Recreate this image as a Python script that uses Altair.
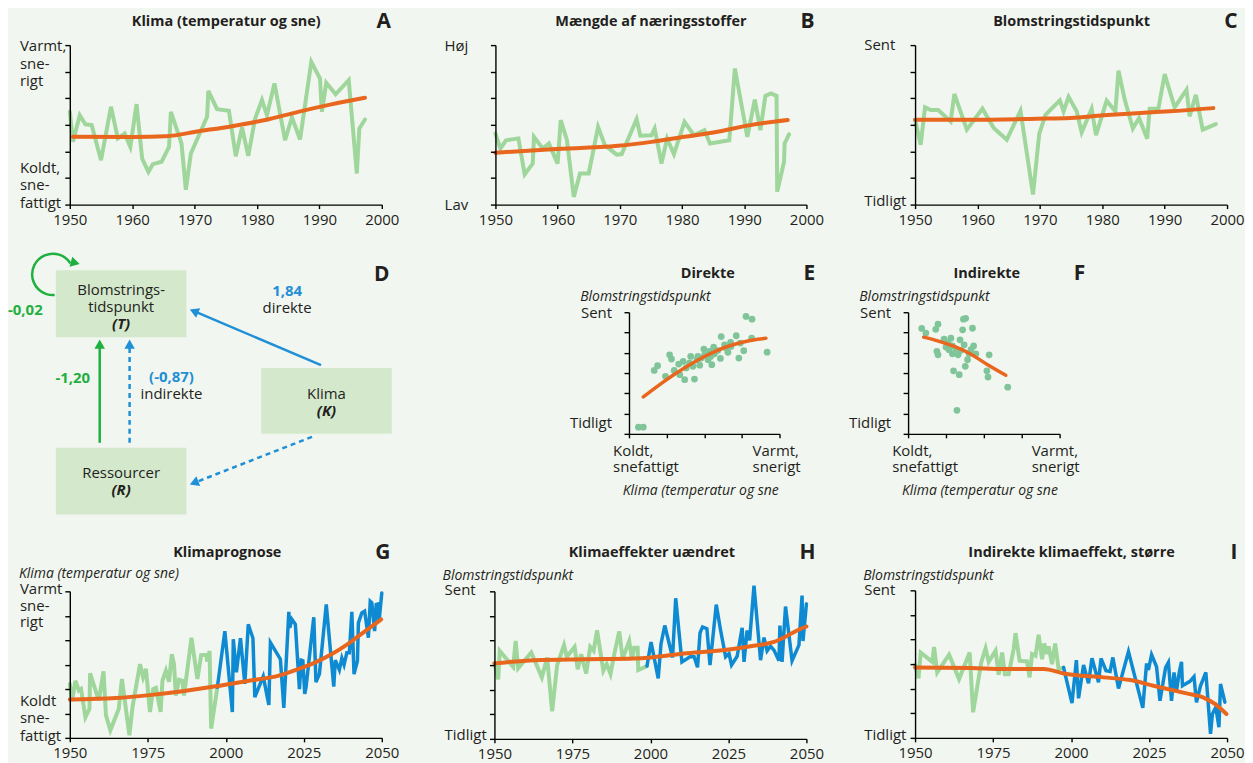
import math
import altair as alt
import pandas as pd

# ---------------- data ----------------
# A: Klima (temperatur og sne), scale 0 (koldt) .. 6 (varmt)
A_year = [1950.0, 1950.5, 1951.6, 1952.5, 1953.5, 1955.0, 1956.6, 1957.7, 1958.8, 1959.7,
          1960.7, 1961.6, 1962.6, 1963.3, 1964.7, 1965.9, 1966.2, 1967.9, 1968.6, 1969.4,
          1972.0, 1972.2, 1973.6, 1975.5, 1976.6, 1977.6, 1978.6, 1979.7, 1980.8, 1981.6,
          1982.8, 1984.5, 1985.6, 1986.9, 1988.7, 1990.1, 1990.4, 1991.1, 1992.6, 1994.7,
          1996.0, 1996.4, 1997.3]
A_val = [3.49, 2.36, 3.36, 3.02, 2.99, 1.67, 3.68, 2.49, 2.67, 2.17,
         3.78, 1.73, 1.23, 1.52, 1.61, 2.17, 3.49, 2.30, 0.56, 1.92,
         3.30, 4.28, 3.59, 3.53, 1.82, 2.90, 1.83, 3.24, 3.93, 3.36,
         4.56, 2.42, 3.28, 2.45, 5.37, 4.74, 3.49, 4.58, 4.15, 4.68,
         1.17, 2.86, 3.20]
A_trend_year = [1950.5, 1960.1, 1965.4, 1970.7, 1976.0, 1981.3, 1986.6, 1991.9, 1997.3]
A_trend_val = [2.55, 2.54, 2.57, 2.76, 2.95, 3.18, 3.49, 3.77, 4.02]

# B: Mængde af næringsstoffer
B_year = [1950.0, 1950.8, 1951.7, 1953.7, 1954.7, 1956.0, 1956.2, 1957.6, 1958.6, 1960.0,
          1960.5, 1961.5, 1962.6, 1963.6, 1965.0, 1966.5, 1967.6, 1969.5, 1970.3, 1972.7,
          1973.3, 1975.1, 1975.6, 1976.7, 1977.6, 1978.7, 1980.4, 1981.9, 1983.6, 1984.5,
          1987.6, 1988.5, 1990.5, 1991.7, 1992.6, 1993.4, 1994.3, 1995.2, 1995.3, 1996.4,
          1996.5, 1997.2]
B_val = [2.67, 2.11, 2.42, 2.49, 1.14, 1.54, 2.55, 2.11, 2.30, 1.54,
         3.18, 2.42, 0.29, 1.17, 1.17, 2.92, 2.23, 1.88, 1.90, 3.21,
         2.59, 2.61, 2.86, 1.54, 2.49, 1.90, 3.11, 2.61, 2.80, 2.30,
         2.42, 5.12, 2.55, 3.95, 2.80, 4.09, 4.18, 4.09, 0.48, 1.61,
         2.30, 2.64]
B_trend_year = [1950.0, 1959.1, 1969.7, 1975.1, 1980.4, 1985.7, 1991.0, 1997.0]
B_trend_val = [1.95, 2.08, 2.21, 2.36, 2.55, 2.74, 2.99, 3.18]

# C: Blomstringstidspunkt
C_year = [1950.0, 1950.9, 1951.6, 1952.5, 1953.7, 1955.7, 1956.3, 1958.3, 1960.8, 1962.6,
          1964.7, 1966.9, 1968.9, 1969.9, 1970.9, 1973.2, 1973.8, 1974.6, 1975.9, 1976.7,
          1978.3, 1979.0, 1980.7, 1982.1, 1982.6, 1983.6, 1984.9, 1985.9, 1987.2, 1987.6,
          1989.0, 1990.0, 1991.6, 1993.5, 1994.0, 1995.0, 1996.1, 1998.2]
C_val = [3.19, 2.25, 3.66, 3.56, 3.56, 3.13, 4.16, 2.82, 3.61, 2.88,
         2.44, 3.53, 0.38, 2.66, 3.38, 3.92, 3.51, 4.05, 3.51, 2.72,
         3.60, 2.61, 3.91, 3.51, 5.04, 3.95, 2.86, 3.26, 2.48, 3.61,
         3.61, 4.91, 3.66, 4.32, 3.32, 4.13, 2.82, 3.03]
C_trend_year = [1950.0, 1958.9, 1969.5, 1974.9, 1980.2, 1985.5, 1990.8, 1997.8]
C_trend_val = [3.19, 3.19, 3.23, 3.26, 3.36, 3.44, 3.51, 3.63]

# E: Direkte (klima 0..4, blomstring 0..6)
E_klima = [0.25, 0.38, 0.67, 0.76, 0.97, 1.08, 1.13, 1.20, 1.32, 1.35, 1.44, 1.48, 1.52, 1.64,
           1.70, 1.74, 1.81, 1.88, 1.99, 2.01, 2.10, 2.17, 2.20, 2.25, 2.36, 2.43, 2.45, 2.54,
           2.63, 2.70, 2.85, 2.92, 2.96, 3.05, 3.11, 3.27, 3.26, 3.67, 2.27, 1.92, 1.61, 1.83,
           2.58, 2.71, 2.14]
E_blom = [0.33, 0.33, 3.13, 3.36, 2.84, 3.90, 3.69, 3.13, 3.44, 2.92, 3.57, 2.67, 3.25, 3.82,
          3.33, 2.70, 3.66, 3.39, 4.18, 3.90, 3.66, 3.82, 3.41, 4.28, 4.11, 3.72, 4.80, 4.39,
          4.02, 4.51, 4.84, 3.74, 4.48, 4.10, 5.79, 5.66, 4.72, 4.03, 3.95, 3.74, 3.49, 3.82,
          4.23, 4.31, 4.07]
E_trend_klima = [0.38, 0.78, 1.22, 1.66, 2.10, 2.54, 2.98, 3.42, 3.64]
E_trend_blom = [1.82, 2.38, 2.95, 3.46, 3.90, 4.26, 4.51, 4.67, 4.72]

# F: Indirekte
F_klima = [0.36, 0.47, 0.73, 0.79, 0.76, 0.79, 0.95, 1.00, 1.06, 1.13, 1.17, 1.20, 1.26, 1.32,
           1.35, 1.37, 1.44, 1.46, 1.52, 1.48, 1.51, 1.57, 1.61, 1.66, 1.70, 1.73, 1.79, 2.08,
           2.11, 2.14, 2.63, 1.29, 1.17, 1.08, 1.39]
F_blom = [5.20, 4.97, 5.16, 5.41, 4.07, 3.90, 4.67, 4.28, 4.48, 4.72, 3.95, 3.11, 4.18, 3.90,
          2.92, 4.64, 5.13, 5.66, 5.70, 4.39, 3.33, 3.66, 3.95, 4.15, 5.21, 4.34, 3.95, 3.11,
          2.80, 3.90, 2.30, 1.16, 4.34, 4.15, 4.11]
F_trend_klima = [0.41, 0.78, 1.22, 1.66, 2.10, 2.58]
F_trend_blom = [4.77, 4.59, 4.31, 3.93, 3.41, 2.89]

# G: Klimaprognose
G_obs_year = [1950.0, 1950.7, 1951.8, 1952.9, 1953.6, 1955.0, 1956.3, 1956.5, 1959.3, 1960.8,
              1961.6, 1963.0, 1965.7, 1966.7, 1969.1, 1970.1, 1972.5, 1973.5, 1974.4, 1975.7,
              1976.7, 1977.6, 1979.1, 1979.7, 1980.8, 1981.8, 1982.7, 1983.4, 1984.0, 1985.0,
              1986.1, 1986.6, 1989.0, 1990.9, 1992.1, 1993.8, 1994.0, 1994.8, 1995.3, 1997.3]
G_obs_val = [2.21, 1.50, 2.34, 1.94, 2.00, 0.85, 1.19, 2.64, 1.53, 2.72,
             0.92, 0.31, 1.19, 2.41, 0.11, 1.26, 3.02, 2.48, 2.82, 1.06,
             2.00, 2.05, 1.06, 2.34, 2.75, 2.30, 3.43, 3.02, 1.73, 2.38,
             2.34, 1.73, 4.10, 2.41, 3.39, 3.40, 3.12, 3.56, 0.38, 2.07]
G_proj_year = [1997.3, 1999.7, 2002.1, 2002.4, 2003.4, 2004.7, 2006.1, 2007.2, 2008.7, 2009.3,
               2012.0, 2013.8, 2014.3, 2017.5, 2018.6, 2020.2, 2020.5, 2021.2, 2022.3, 2023.6,
               2024.2, 2024.7, 2025.3, 2025.7, 2028.2, 2028.9, 2030.0, 2032.2, 2034.6, 2035.1,
               2036.4, 2037.2, 2037.9, 2038.8, 2039.6, 2040.4, 2041.1, 2042.2, 2042.5, 2043.6,
               2044.5, 2045.7, 2046.3, 2046.8, 2047.7, 2048.2, 2048.9, 2049.1, 2050.0]
G_proj_val = [2.07, 4.37, 1.06, 4.04, 2.68, 4.08, 2.21, 4.65, 4.08, 1.67,
              2.52, 1.35, 3.90, 3.22, 1.23, 5.16, 4.51, 4.85, 4.65, 2.00,
              3.18, 3.16, 1.80, 2.05, 4.94, 2.28, 2.61, 5.46, 2.10, 3.18,
              2.78, 3.26, 2.99, 3.49, 3.49, 5.16, 2.61, 3.16, 4.71, 5.12,
              5.19, 4.10, 5.59, 5.53, 4.37, 5.46, 5.49, 4.75, 5.93]
G_trend_year = [1950.0, 1964.8, 1975.5, 1986.1, 1996.8, 2007.4, 2017.0, 2023.4, 2028.7,
                2034.0, 2039.3, 2044.7, 2049.8]
G_trend_val = [1.57, 1.63, 1.75, 1.91, 2.11, 2.34, 2.55, 2.82, 3.09, 3.43, 3.86, 4.37, 4.85]

# H: Klimaeffekter uændret
H_obs_year = [1950.0, 1951.2, 1951.7, 1956.0, 1956.8, 1957.6, 1961.8, 1965.2, 1966.9, 1968.5,
              1970.1, 1972.3, 1973.2, 1975.7, 1976.7, 1977.8, 1979.4, 1980.7, 1981.8, 1982.9,
              1984.9, 1986.0, 1987.2, 1988.4, 1990.0, 1991.1, 1993.2, 1994.1, 1994.8, 1995.9,
              1996.1, 1998.9]
H_obs_val = [3.07, 2.42, 3.58, 2.93, 3.98, 2.87, 3.51, 2.50, 3.31, 1.12,
             3.00, 3.81, 3.34, 3.74, 2.83, 3.44, 2.66, 3.74, 3.58, 4.41,
             2.77, 3.04, 2.64, 3.44, 4.37, 3.27, 3.98, 3.24, 3.71, 3.71,
             2.80, 2.96]
H_proj_year = [1998.9, 2000.2, 2002.5, 2003.4, 2004.6, 2007.1, 2008.1, 2010.1, 2012.7, 2014.0,
               2015.1, 2015.9, 2016.7, 2018.1, 2019.1, 2021.1, 2022.5, 2024.1, 2025.2, 2026.0,
               2027.8, 2029.4, 2030.0, 2031.0, 2031.8, 2033.2, 2035.3, 2036.4, 2037.4, 2038.5,
               2039.6, 2041.2, 2041.5, 2042.2, 2043.3, 2045.4, 2047.6, 2048.6, 2048.9, 2050.0]
H_proj_val = [2.96, 3.94, 2.46, 3.87, 4.61, 3.31, 5.72, 3.13, 3.34, 3.34,
              2.91, 4.31, 4.55, 4.48, 3.00, 5.46, 4.41, 3.34, 3.47, 3.00,
              3.36, 4.52, 3.13, 4.41, 4.01, 6.23, 3.20, 4.12, 3.58, 3.77,
              3.61, 3.18, 4.61, 3.13, 5.38, 3.18, 3.81, 5.83, 3.98, 5.49]
H_trend_year = [1950.0, 1962.9, 1978.9, 1994.8, 2000.2, 2010.8, 2021.5, 2032.1, 2039.6,
                2042.8, 2047.0, 2050.0]
H_trend_val = [3.07, 3.20, 3.24, 3.27, 3.31, 3.47, 3.58, 3.77, 3.94, 4.12, 4.41, 4.57]

# I: Indirekte klimaeffekt, større
I_obs_year = [1950.0, 1951.1, 1951.8, 1955.5, 1956.1, 1957.1, 1960.9, 1964.1, 1967.5, 1968.6,
              1971.2, 1972.6, 1973.6, 1975.8, 1976.8, 1977.9, 1978.8, 1980.0, 1981.6, 1982.2,
              1983.5, 1985.9, 1986.7, 1987.5, 1988.6, 1989.6, 1990.7, 1991.4, 1992.3, 1992.8,
              1993.9, 1994.9, 1996.0, 1997.6]
I_obs_val = [2.97, 2.42, 3.47, 3.09, 3.70, 2.66, 3.38, 2.39, 3.47, 1.04,
             3.07, 3.64, 3.09, 3.54, 2.57, 3.47, 2.59, 2.59, 3.61, 4.26,
             3.14, 3.11, 2.46, 3.41, 3.34, 4.19, 3.20, 3.84, 3.41, 3.72,
             3.00, 3.84, 2.80, 2.86]
I_proj_year = [1997.6, 2000.3, 2001.7, 2002.4, 2004.0, 2005.6, 2006.7, 2008.8, 2009.6, 2011.2,
               2012.5, 2013.4, 2015.2, 2018.4, 2023.0, 2024.2, 2024.8, 2025.8, 2027.4, 2028.5,
               2030.3, 2031.2, 2032.2, 2033.0, 2033.8, 2034.7, 2035.4, 2035.7, 2038.1, 2039.4,
               2040.2, 2041.5, 2043.2, 2044.7, 2045.3, 2046.4, 2047.4, 2047.9, 2049.3]
I_proj_val = [2.86, 1.41, 3.16, 1.61, 2.96, 2.22, 3.24, 2.26, 3.23, 2.73,
              2.70, 3.27, 2.01, 3.51, 1.22, 3.03, 2.76, 3.38, 2.89, 1.51,
              2.86, 3.07, 1.51, 2.66, 1.92, 2.69, 3.09, 2.12, 2.30, 2.49,
              1.45, 2.12, 2.66, 0.16, 0.97, 1.24, 0.43, 2.19, 1.45]
I_trend_year = [1950.0, 1967.8, 1978.4, 1991.2, 1997.6, 2010.4, 2018.9, 2026.4, 2037.0,
                2042.3, 2046.1, 2049.8]
I_trend_val = [2.86, 2.84, 2.80, 2.80, 2.62, 2.46, 2.35, 2.12, 1.81, 1.65, 1.38, 0.97]

# D: diagram texts
node_name = ["Blomstrings-\ntidspunkt", "Klima", "Ressourcer"]
node_sym = ["(T)", "(K)", "(R)"]
edge_value = ["-1,20", "(-0,87)", "1,84", "-0,02"]
edge_kind = ["", "indirekte", "direkte", ""]

# ---------------- styling / layout ----------------
BG = "#f2f6f0"
GREEN = "#9fd69b"
ORANGE = "#e8661d"
BLUE = "#0e8ad2"
DOT = "#80c59a"
BOXFILL = "#d4e8cc"
AGREEN = "#1fb040"
ABLUE = "#1f8fd6"
TXT = "#231f20"
FONT = "Open Sans"

W, H = 313, 175
COL_X = [70, 494, 918]
ROW_Y = [30, 304, 578]


def label(cx, cy, px, py, text, size=15, weight="normal", style="normal",
          align="left", baseline="middle", color=TXT, lh=17.5):
    return alt.Chart(pd.DataFrame({"t": [text]})).mark_text(
        align=align, baseline=baseline, fontSize=size, fontWeight=weight,
        fontStyle=style, font=FONT, color=color, lineBreak="\n", lineHeight=lh
    ).encode(text="t:N", x=alt.value(px - cx), y=alt.value(py - cy))


def axis_common(**kw):
    base = dict(title=None, grid=False, domainColor="#000", domainWidth=1.4,
                tickColor="#000", tickWidth=1.4, labelFont=FONT, labelFontSize=15,
                labelColor=TXT, labelPadding=4, labelFlush=False, labelOverlap=False,
                zindex=1)
    base.update(kw)
    return alt.Axis(**base)


def xy_enc(cx, cy, px0, px1, top, bot, xdom, xticks, xlabels, ydom=(0, 6)):
    xs = alt.Scale(domain=list(xdom), range=[px0 - cx, px1 - cx], nice=False, zero=False)
    ys = alt.Scale(domain=list(ydom), range=[bot - cy, top - cy], nice=False, zero=False)
    xa = axis_common(values=xticks, format="d", labels=xlabels, tickSize=4,
                     offset=(bot - cy) - H)
    ya = axis_common(values=list(range(7)), labels=False, tickSize=5, offset=-(px0 - cx))
    return (lambda f: alt.X(f, scale=xs, axis=xa)), (lambda f: alt.Y(f, scale=ys, axis=ya))


def lines(df, X, Y, color, width, interp="linear"):
    return alt.Chart(df).mark_line(color=color, strokeWidth=width, interpolate=interp,
                                   strokeCap="round").encode(x=X("x:Q"), y=Y("y:Q"), order="i:Q")


def frame(xs, ys):
    return pd.DataFrame({"x": xs, "y": ys, "i": list(range(len(xs)))})


def ts_cell(col, row, px0, px1, top, bot, xdom, xticks, series, texts, extra_first=None):
    cx, cy = COL_X[col], ROW_Y[row]
    X, Y = xy_enc(cx, cy, px0, px1, top, bot, xdom, xticks, True)
    layers = []
    if extra_first is not None:
        layers.append(extra_first)
    for xs, ys, color, width, interp in series:
        layers.append(lines(frame(xs, ys), X, Y, color, width, interp))
    for t in texts:
        layers.append(label(cx, cy, *t[:3], **(t[3] if len(t) > 3 else {})))
    return alt.layer(*layers).properties(width=W, height=H)


TITLE = dict(size=14.5, weight="bold", align="center")
LETTER = dict(size=21, weight="bold", align="center")
ITAL = dict(size=14, style="italic")

# background panel covering the whole picture (first layer of the first cell)
bg = alt.Chart(pd.DataFrame({"a": [0]})).mark_rect(color=BG).encode(
    x=alt.value(8 - COL_X[0]), x2=alt.value(1244 - COL_X[0]),
    y=alt.value(8 - ROW_Y[0]), y2=alt.value(755 - ROW_Y[0]))

dec = [1950, 1960, 1970, 1980, 1990, 2000]
qc = [1950, 1975, 2000, 2025, 2050]

cellA = ts_cell(0, 0, 70, 383, 44, 204, (1950, 2000), dec,
                [(A_year, A_val, GREEN, 4, "linear"),
                 (A_trend_year, A_trend_val, ORANGE, 4, "monotone")],
                [(227, 21, "Klima (temperatur og sne)", TITLE),
                 (385, 21, "A", LETTER),
                 (20, 45, "Varmt,\nsne-\nrigt", {}),
                 (20, 167, "Koldt,\nsne-\nfattigt", {})],
                extra_first=bg)
cellB = ts_cell(1, 0, 497, 809, 44, 204, (1950, 2000), dec,
                [(B_year, B_val, GREEN, 4, "linear"),
                 (B_trend_year, B_trend_val, ORANGE, 4, "monotone")],
                [(653, 21, "Mængde af næringsstoffer", TITLE),
                 (810, 21, "B", LETTER),
                 (446, 45, "Høj", {}),
                 (446, 204, "Lav", {})])
cellC = ts_cell(2, 0, 918, 1231, 44, 204, (1950, 2000), dec,
                [(C_year, C_val, GREEN, 4, "linear"),
                 (C_trend_year, C_trend_val, ORANGE, 4, "monotone")],
                [(1075, 21, "Blomstringstidspunkt", TITLE),
                 (1235, 21, "C", LETTER),
                 (867, 44, "Sent", {}),
                 (867, 200, "Tidligt", {})])

cellG = ts_cell(0, 2, 70, 383, 592, 739, (1950, 2050), qc,
                [(G_obs_year, G_obs_val, GREEN, 4, "linear"),
                 (G_proj_year, G_proj_val, BLUE, 3.5, "linear"),
                 (G_trend_year, G_trend_val, ORANGE, 4, "monotone")],
                [(228, 554, "Klimaprognose", TITLE),
                 (384, 554, "G", LETTER),
                 (19, 575, "Klima (temperatur og sne)", ITAL),
                 (20, 590, "Varmt\nsne-\nrigt", {"lh": 16.5}),
                 (20, 702, "Koldt\nsne-\nfattigt", {"lh": 17.5})])
cellH = ts_cell(1, 2, 496, 809, 592, 740, (1950, 2050), qc,
                [(H_obs_year, H_obs_val, GREEN, 4, "linear"),
                 (H_proj_year, H_proj_val, BLUE, 3.5, "linear"),
                 (H_trend_year, H_trend_val, ORANGE, 4, "monotone")],
                [(654, 554, "Klimaeffekter uændret", TITLE),
                 (810, 554, "H", LETTER),
                 (444, 577, "Blomstringstidspunkt", ITAL),
                 (446, 591, "Sent", {}),
                 (446, 736, "Tidligt", {})])
cellI = ts_cell(2, 2, 918, 1231, 591, 739, (1950, 2050), qc,
                [(I_obs_year, I_obs_val, GREEN, 4, "linear"),
                 (I_proj_year, I_proj_val, BLUE, 3.5, "linear"),
                 (I_trend_year, I_trend_val, ORANGE, 4, "monotone")],
                [(1075, 554, "Indirekte klimaeffekt, større", TITLE),
                 (1238, 554, "I", LETTER),
                 (866, 577, "Blomstringstidspunkt", ITAL),
                 (867, 591, "Sent", {}),
                 (867, 736, "Tidligt", {})])


def scatter_cell(col, px0, px1, kx, by, tkx, tby, title, tx, letter, lx, itx, ylab_r, kold_x, varm_x, bot_c):
    cx, cy = COL_X[col], ROW_Y[1]
    X, Y = xy_enc(cx, cy, px0, px1, 312, 434, (0, 4), [0, 1, 2, 3, 4], False)
    pts = alt.Chart(pd.DataFrame({"x": kx, "y": by})).mark_circle(
        size=46, color=DOT, opacity=1).encode(x=X("x:Q"), y=Y("y:Q"))
    tr = lines(frame(tkx, tby), X, Y, ORANGE, 3.5, "monotone")
    texts = [
        label(cx, cy, tx, 274, title, **TITLE),
        label(cx, cy, lx, 274, letter, **LETTER),
        label(cx, cy, itx, 297, "Blomstringstidspunkt", **ITAL),
        label(cx, cy, ylab_r, 313, "Sent", align="right"),
        label(cx, cy, ylab_r, 423, "Tidligt", align="right"),
        label(cx, cy, kold_x, 451, "Koldt,\nsnefattigt", lh=16.5),
        label(cx, cy, varm_x, 451, "Varmt,\nsnerigt", lh=16.5),
        label(cx, cy, bot_c, 491, "Klima (temperatur og sne", align="center", **ITAL),
    ]
    return alt.layer(pts, tr, *texts).properties(width=W, height=H)


cellE = scatter_cell(1, 631, 782, E_klima, E_blom, E_trend_klima, E_trend_blom,
                     "Direkte", 710, "E", 812, 582, 614, 615, 755, 703)
cellF = scatter_cell(2, 911, 1063, F_klima, F_blom, F_trend_klima, F_trend_blom,
                     "Indirekte", 990, "F", 1083, 862, 894, 895, 1035, 983)

# ---------------- diagram D ----------------
cx, cy = COL_X[0], ROW_Y[1]
DXS = alt.Scale(domain=[0, 400], range=[0 - cx, 400 - cx], nice=False, zero=False)
DYS = alt.Scale(domain=[0, 800], range=[0 - cy, 800 - cy], nice=False, zero=False)


def DX(f):
    return alt.X(f, scale=DXS, axis=None)


def DY(f):
    return alt.Y(f, scale=DYS, axis=None)


# node layout (schematic units)
node_x1 = [56, 262, 56]
node_x2 = [187, 393, 187]
node_y1 = [270, 368, 448]
node_y2 = [337, 434, 515]
node_name_y = [290, 394, 473]
node_sym_y = [324, 411, 490]

nodes = pd.DataFrame({"x1": node_x1, "x2": node_x2, "y1": node_y1, "y2": node_y2,
                      "name": node_name, "sym": node_sym,
                      "cxm": [(a + b) / 2 for a, b in zip(node_x1, node_x2)],
                      "ny": node_name_y, "sy": node_sym_y})
boxes = alt.Chart(nodes).mark_rect(color=BOXFILL).encode(
    x=DX("x1:Q"), x2="x2:Q", y=DY("y1:Q"), y2="y2:Q")
names = alt.Chart(nodes).mark_text(fontSize=15, font=FONT, color=TXT, lineBreak="\n",
                                   lineHeight=17, baseline="middle").encode(
    x=DX("cxm:Q"), y=DY("ny:Q"), text="name:N")
syms = alt.Chart(nodes).mark_text(fontSize=15, font=FONT, color=TXT, fontStyle="italic",
                                  fontWeight="bold", baseline="middle").encode(
    x=DX("cxm:Q"), y=DY("sy:Q"), text="sym:N")

# edges: tail -> tip
edge_tail = [(100, 443), (130, 443), (322, 365), (313, 437)]
edge_tip = [(100, 339), (130, 339), (190, 309), (190, 485)]
edge_color = [AGREEN, ABLUE, ABLUE, ABLUE]
edge_dash = [False, True, False, True]
rows, heads = [], []
for (x1, y1), (x2, y2), c, d in zip(edge_tail, edge_tip, edge_color, edge_dash):
    dx, dy = x2 - x1, y2 - y1
    ln = math.hypot(dx, dy)
    ux, uy = dx / ln, dy / ln
    hx, hy = x2 - ux * 5, y2 - uy * 5
    ang = (math.degrees(math.atan2(dx, -dy)) + 360) % 360
    rows.append({"x": x1, "y": y1, "x2": hx, "y2": hy, "c": c, "d": d})
    heads.append({"x": hx, "y": hy, "a": ang, "c": c})
# curved self-arrow head
heads.append({"x": 75.5, "y": 262.5, "a": 105.0, "c": AGREEN})
edges = pd.DataFrame(rows)
solid = alt.Chart(edges[~edges.d]).mark_rule(strokeWidth=2.5).encode(
    x=DX("x:Q"), y=DY("y:Q"), x2="x2:Q", y2="y2:Q", color=alt.Color("c:N", scale=None))
dashed = alt.Chart(edges[edges.d]).mark_rule(strokeWidth=2.5, strokeDash=[5, 4]).encode(
    x=DX("x:Q"), y=DY("y:Q"), x2="x2:Q", y2="y2:Q", color=alt.Color("c:N", scale=None))
heads_ch = alt.Chart(pd.DataFrame(heads)).mark_point(
    shape="triangle-up", filled=True, size=110, opacity=1).encode(
    x=DX("x:Q"), y=DY("y:Q"), angle=alt.Angle("a:Q", scale=None),
    color=alt.Color("c:N", scale=None))
loop = alt.Chart(pd.DataFrame({"x": [53], "y": [274]})).mark_arc(
    radius=22, radius2=19.5, theta=math.radians(175), theta2=math.radians(418),
    color=AGREEN).encode(x=DX("x:Q"), y=DY("y:Q"))

elab = pd.DataFrame({"v": edge_value, "k": edge_kind,
                     "x": [73, 172, 288, 8], "y": [378, 377, 291, 310],
                     "c": [AGREEN, ABLUE, ABLUE, AGREEN],
                     "al": ["center", "center", "center", "left"]})
vals_c = alt.Chart(elab[elab.al == "center"]).mark_text(
    fontSize=15, fontWeight="bold", font=FONT, baseline="middle", align="center").encode(
    x=DX("x:Q"), y=DY("y:Q"), text="v:N", color=alt.Color("c:N", scale=None))
vals_l = alt.Chart(elab[elab.al == "left"]).mark_text(
    fontSize=15, fontWeight="bold", font=FONT, baseline="middle", align="left").encode(
    x=DX("x:Q"), y=DY("y:Q"), text="v:N", color=alt.Color("c:N", scale=None))
kinds = alt.Chart(elab[elab.k != ""].assign(y2=lambda d: d.y + 17)).mark_text(
    fontSize=15, font=FONT, baseline="middle", align="center", color=TXT).encode(
    x=DX("x:Q"), y=DY("y2:Q"), text="k:N")

cellD = alt.layer(
    boxes, solid, dashed, heads_ch, loop, names, syms, vals_c, vals_l, kinds,
    label(cx, cy, 383, 275, "D", **LETTER),
).properties(width=W, height=H)

chart = alt.concat(
    cellA, cellB, cellC, cellD, cellE, cellF, cellG, cellH, cellI,
    columns=3, spacing={"row": 99, "column": 111}, bounds="flush",
).properties(padding=0, background=BG).configure_view(stroke=None)

chart.save("out.html", embed_options={"renderer": "svg", "actions": False})
